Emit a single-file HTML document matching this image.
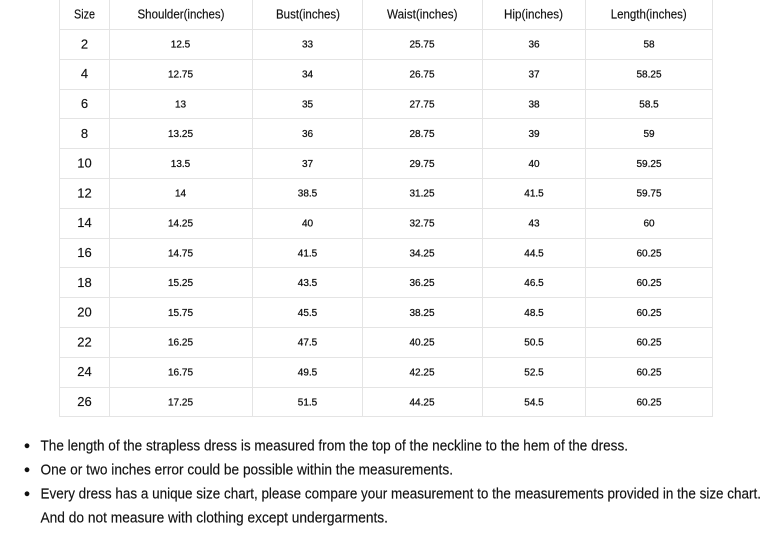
<!DOCTYPE html>
<html><head><meta charset="utf-8"><style>
html,body{margin:0;padding:0;background:#fff;width:771px;height:541px;overflow:hidden}
svg{display:block}
text{font-family:"Liberation Sans",Arial,sans-serif;fill:#111}
.h{font-size:13px;stroke:#111;stroke-width:0.15}
.s{font-size:13px;stroke:#111;stroke-width:0.15}
.d{font-size:10px;stroke:#111;stroke-width:0.25}
.b{font-size:15px;stroke:#111;stroke-width:0.15}
</style></head><body>
<svg width="771" height="541" viewBox="0 0 771 541" xmlns="http://www.w3.org/2000/svg">
<g stroke="#e4e4e4" stroke-width="1" fill="none">
<line x1="59.5" y1="-2" x2="59.5" y2="417"/>
<line x1="109.5" y1="-2" x2="109.5" y2="417"/>
<line x1="252.5" y1="-2" x2="252.5" y2="417"/>
<line x1="362.5" y1="-2" x2="362.5" y2="417"/>
<line x1="482.5" y1="-2" x2="482.5" y2="417"/>
<line x1="585.5" y1="-2" x2="585.5" y2="417"/>
<line x1="712.5" y1="-2" x2="712.5" y2="417"/>
<line x1="59" y1="29.5" x2="713" y2="29.5"/>
<line x1="59" y1="59.5" x2="713" y2="59.5"/>
<line x1="59" y1="89.5" x2="713" y2="89.5"/>
<line x1="59" y1="118.5" x2="713" y2="118.5"/>
<line x1="59" y1="148.5" x2="713" y2="148.5"/>
<line x1="59" y1="178.5" x2="713" y2="178.5"/>
<line x1="59" y1="208.5" x2="713" y2="208.5"/>
<line x1="59" y1="238.5" x2="713" y2="238.5"/>
<line x1="59" y1="267.5" x2="713" y2="267.5"/>
<line x1="59" y1="297.5" x2="713" y2="297.5"/>
<line x1="59" y1="327.5" x2="713" y2="327.5"/>
<line x1="59" y1="357.5" x2="713" y2="357.5"/>
<line x1="59" y1="387.5" x2="713" y2="387.5"/>
<line x1="59" y1="416.5" x2="713" y2="416.5"/>
</g>
<g text-anchor="middle">
<text class="h" x="84.5" y="18.3" textLength="21" lengthAdjust="spacingAndGlyphs">Size</text>
<text class="h" x="181" y="18.3" textLength="87" lengthAdjust="spacingAndGlyphs">Shoulder(inches)</text>
<text class="h" x="308" y="18.3" textLength="64" lengthAdjust="spacingAndGlyphs">Bust(inches)</text>
<text class="h" x="422.3" y="18.3" textLength="70.5" lengthAdjust="spacingAndGlyphs">Waist(inches)</text>
<text class="h" x="533.5" y="18.3" textLength="59" lengthAdjust="spacingAndGlyphs">Hip(inches)</text>
<text class="h" x="648.7" y="18.3" textLength="76" lengthAdjust="spacingAndGlyphs">Length(inches)</text>
</g>
<g text-anchor="middle">
<text class="s" x="84.5" y="48.4">2</text><text class="d" x="180.5" y="47.7">12.5</text><text class="d" x="307.5" y="47.7">33</text><text class="d" x="422" y="47.7">25.75</text><text class="d" x="534" y="47.7">36</text><text class="d" x="649" y="47.7">58</text>
<text class="s" x="84.5" y="78.2">4</text><text class="d" x="180.5" y="77.5">12.75</text><text class="d" x="307.5" y="77.5">34</text><text class="d" x="422" y="77.5">26.75</text><text class="d" x="534" y="77.5">37</text><text class="d" x="649" y="77.5">58.25</text>
<text class="s" x="84.5" y="108">6</text><text class="d" x="180.5" y="107.3">13</text><text class="d" x="307.5" y="107.3">35</text><text class="d" x="422" y="107.3">27.75</text><text class="d" x="534" y="107.3">38</text><text class="d" x="649" y="107.3">58.5</text>
<text class="s" x="84.5" y="137.8">8</text><text class="d" x="180.5" y="137.1">13.25</text><text class="d" x="307.5" y="137.1">36</text><text class="d" x="422" y="137.1">28.75</text><text class="d" x="534" y="137.1">39</text><text class="d" x="649" y="137.1">59</text>
<text class="s" x="84.5" y="167.6">10</text><text class="d" x="180.5" y="166.9">13.5</text><text class="d" x="307.5" y="166.9">37</text><text class="d" x="422" y="166.9">29.75</text><text class="d" x="534" y="166.9">40</text><text class="d" x="649" y="166.9">59.25</text>
<text class="s" x="84.5" y="197.4">12</text><text class="d" x="180.5" y="196.7">14</text><text class="d" x="307.5" y="196.7">38.5</text><text class="d" x="422" y="196.7">31.25</text><text class="d" x="534" y="196.7">41.5</text><text class="d" x="649" y="196.7">59.75</text>
<text class="s" x="84.5" y="227.2">14</text><text class="d" x="180.5" y="226.5">14.25</text><text class="d" x="307.5" y="226.5">40</text><text class="d" x="422" y="226.5">32.75</text><text class="d" x="534" y="226.5">43</text><text class="d" x="649" y="226.5">60</text>
<text class="s" x="84.5" y="257">16</text><text class="d" x="180.5" y="256.3">14.75</text><text class="d" x="307.5" y="256.3">41.5</text><text class="d" x="422" y="256.3">34.25</text><text class="d" x="534" y="256.3">44.5</text><text class="d" x="649" y="256.3">60.25</text>
<text class="s" x="84.5" y="286.8">18</text><text class="d" x="180.5" y="286.1">15.25</text><text class="d" x="307.5" y="286.1">43.5</text><text class="d" x="422" y="286.1">36.25</text><text class="d" x="534" y="286.1">46.5</text><text class="d" x="649" y="286.1">60.25</text>
<text class="s" x="84.5" y="316.6">20</text><text class="d" x="180.5" y="315.9">15.75</text><text class="d" x="307.5" y="315.9">45.5</text><text class="d" x="422" y="315.9">38.25</text><text class="d" x="534" y="315.9">48.5</text><text class="d" x="649" y="315.9">60.25</text>
<text class="s" x="84.5" y="346.4">22</text><text class="d" x="180.5" y="345.7">16.25</text><text class="d" x="307.5" y="345.7">47.5</text><text class="d" x="422" y="345.7">40.25</text><text class="d" x="534" y="345.7">50.5</text><text class="d" x="649" y="345.7">60.25</text>
<text class="s" x="84.5" y="376.2">24</text><text class="d" x="180.5" y="375.5">16.75</text><text class="d" x="307.5" y="375.5">49.5</text><text class="d" x="422" y="375.5">42.25</text><text class="d" x="534" y="375.5">52.5</text><text class="d" x="649" y="375.5">60.25</text>
<text class="s" x="84.5" y="406">26</text><text class="d" x="180.5" y="405.3">17.25</text><text class="d" x="307.5" y="405.3">51.5</text><text class="d" x="422" y="405.3">44.25</text><text class="d" x="534" y="405.3">54.5</text><text class="d" x="649" y="405.3">60.25</text>
</g>
<g fill="#111">
<circle cx="27" cy="445.8" r="2.4"/>
<circle cx="27" cy="469.8" r="2.4"/>
<circle cx="27" cy="493.8" r="2.4"/>
</g>
<text class="b" x="40.5" y="450.6" textLength="587.5" lengthAdjust="spacingAndGlyphs">The length of the strapless dress is measured from the top of the neckline to the hem of the dress.</text>
<text class="b" x="40.5" y="474.6" textLength="412.5" lengthAdjust="spacingAndGlyphs">One or two inches error could be possible within the measurements.</text>
<text class="b" x="40.5" y="498.6" textLength="720.5" lengthAdjust="spacingAndGlyphs">Every dress has a unique size chart, please compare your measurement to the measurements provided in the size chart.</text>
<text class="b" x="40.5" y="522.6" textLength="347.5" lengthAdjust="spacingAndGlyphs">And do not measure with clothing except undergarments.</text>
</svg>
</body></html>
